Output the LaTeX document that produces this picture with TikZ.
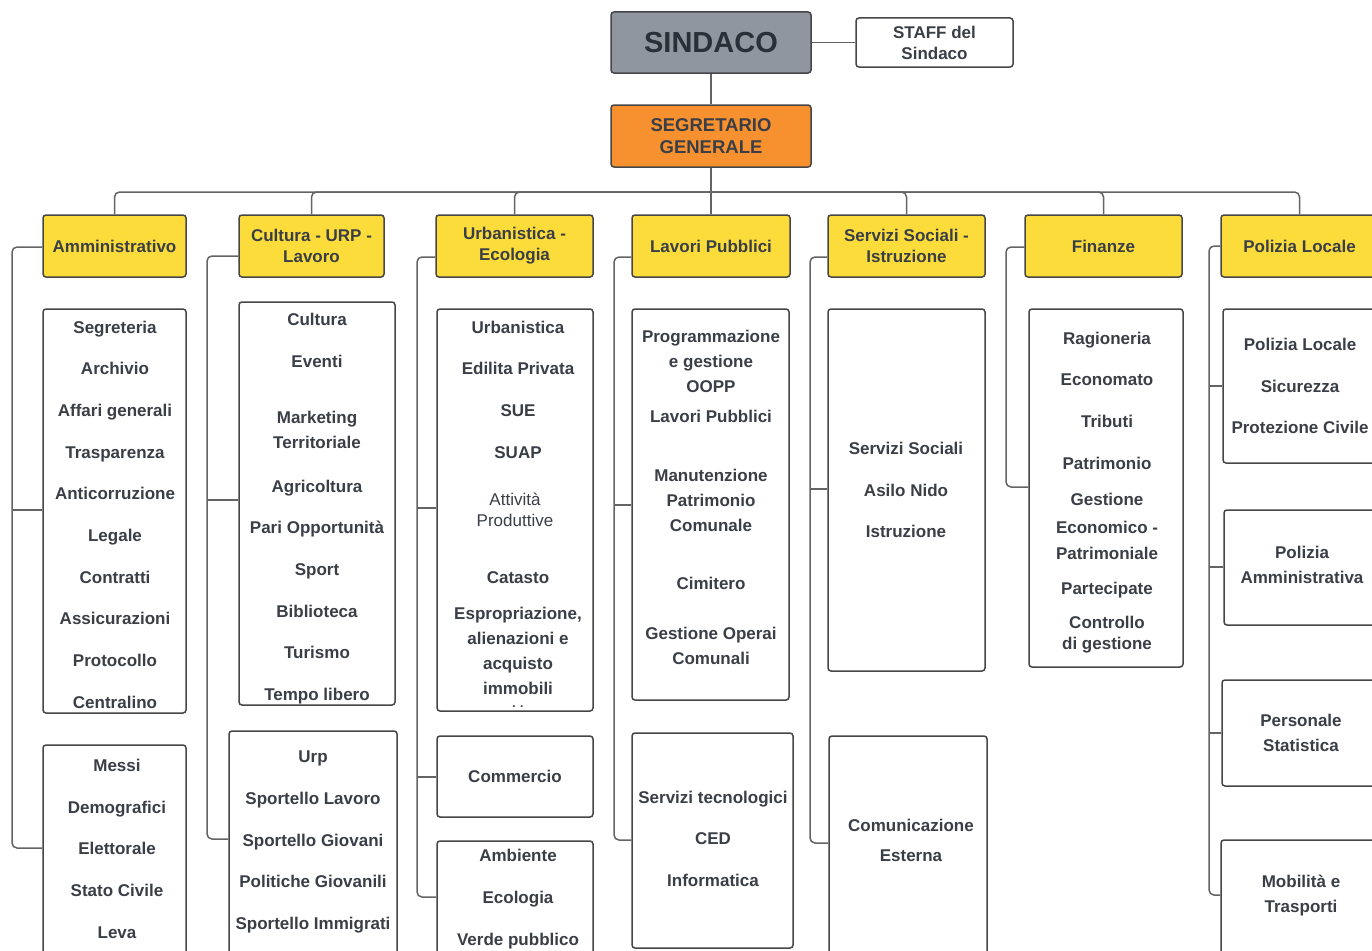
\documentclass[tikz,border=0pt]{standalone}
\usepackage{fontspec}
\setmainfont{Liberation Sans}
\usetikzlibrary{calc}
\definecolor{txt}{RGB}{58,62,70}
\definecolor{linec}{RGB}{70,70,72}
\definecolor{connc}{RGB}{100,100,102}
\definecolor{sindc}{RGB}{143,150,160}
\definecolor{orangec}{RGB}{247,145,48}
\definecolor{yellowc}{RGB}{251,220,59}
\newcommand\itemfont{\fontsize{17}{21}\selectfont\bfseries}
\newcommand\itemregfont{\fontsize{17}{21}\selectfont}
\tikzset{
  box/.style={draw=linec, line width=1.5pt, rounded corners=3pt, fill=white, inner sep=0pt},
  hdr/.style={box, fill=yellowc, align=center, font=\itemfont, text=txt},
  item/.style={font=\itemfont, text=txt, inner sep=0pt, text height=12pt, text depth=0pt},
  itemreg/.style={font=\itemregfont, text=txt, inner sep=0pt, text height=12pt, text depth=0pt},
  conn/.style={draw=connc, line width=1.5pt},
}
\begin{document}
\begin{tikzpicture}[x=1pt,y=-1pt]
\useasboundingbox (0,0) rectangle (1372,950);
\clip (0,0) rectangle (1372,950);
\fill[white] (0,0) rectangle (1372,950);

% top
\node[box, fill=sindc, minimum width=200, minimum height=61, font=\fontsize{29}{32}\selectfont\bfseries, text={rgb,255:red,42;green,47;blue,56}] (sind) at (711,42.5) {SINDACO};
\node[box, minimum width=157, minimum height=49, align=center, font=\fontsize{17}{21}\selectfont\bfseries, text=txt] (staff) at (934.5,42.5) {STAFF del\\Sindaco};
\node[box, fill=orangec, minimum width=200, minimum height=62, align=center, font=\fontsize{18.5}{22}\selectfont\bfseries, text=txt] (seg) at (711,136) {SEGRETARIO\\GENERALE};
\coordinate (bus) at (711,192);

% headers
\node[hdr, minimum width=143, minimum height=62] (h1) at (114.5,246) {Amministrativo};
\node[hdr, minimum width=145, minimum height=62] (h2) at (311.5,246) {Cultura - URP -\\Lavoro};
\node[hdr, minimum width=157, minimum height=62] (h3) at (514.5,246) {Urbanistica -\\Ecologia};
\node[hdr, minimum width=158, minimum height=62] (h4) at (711,246) {Lavori Pubblici};
\node[hdr, minimum width=157, minimum height=62] (h5) at (906.5,246) {Servizi Sociali -\\Istruzione};
\node[hdr, minimum width=157, minimum height=62] (h6) at (1103.5,246) {Finanze};
\node[hdr, minimum width=157, minimum height=62] (h7) at (1299.5,246) {Polizia Locale};

% sub boxes
\node[box, minimum width=143, minimum height=404] (a1) at (114.5,511) {};
\node[box, minimum width=143, minimum height=215] (a2) at (114.5,852.5) {};
\node[box, minimum width=156, minimum height=403] (c1) at (317,503.5) {};
\node[box, minimum width=168, minimum height=229] (c2) at (313,845.5) {};
\node[box, minimum width=156, minimum height=402] (u1) at (515,510) {};
\node[box, minimum width=156, minimum height=81] (u2) at (515,776.5) {};
\node[box, minimum width=156, minimum height=119] (u3) at (515,900.5) {};
\node[box, minimum width=157, minimum height=391] (l1) at (710.5,504.5) {};
\node[box, minimum width=161, minimum height=215] (l2) at (712.5,840.5) {};
\node[box, minimum width=157, minimum height=362] (s1) at (906.5,490) {};
\node[box, minimum width=158, minimum height=224] (s2) at (908,848) {};
\node[box, minimum width=154, minimum height=358] (f1) at (1106,488) {};
\node[box, minimum width=157, minimum height=154] (p1) at (1301.5,386) {};
\node[box, minimum width=157, minimum height=115] (p2) at (1302.5,567.5) {};
\node[box, minimum width=157, minimum height=106] (p3) at (1300.5,733) {};
\node[box, minimum width=157, minimum height=120] (p4) at (1299.5,900) {};

% connectors
\draw[conn] (sind.east) -- (staff.west);
\draw[conn] (sind.south) -- (seg.north);
\draw[conn] (seg.south) -- (bus);
\foreach \h in {h1,h2,h3,h4,h5,h6,h7}
  \draw[conn, rounded corners=5pt] (bus) -| (\h.north);

\draw[conn, rounded corners=5pt] (h1.west |- 0,247) -| (12,848) -- (a2.west |- 0,848);
\draw[conn] (12,510) -- (a1.west |- 0,510);
\draw[conn, rounded corners=5pt] (h2.west |- 0,256) -| (207,839) -- (c2.west |- 0,839);
\draw[conn] (207,500) -- (c1.west |- 0,500);
\draw[conn, rounded corners=5pt] (h3.west |- 0,257) -| (417,897) -- (u3.west |- 0,897);
\draw[conn] (417,508) -- (u1.west |- 0,508);
\draw[conn] (417,777) -- (u2.west |- 0,777);
\draw[conn, rounded corners=5pt] (h4.west |- 0,257) -| (614,840) -- (l2.west |- 0,840);
\draw[conn] (614,505) -- (l1.west |- 0,505);
\draw[conn, rounded corners=5pt] (h5.west |- 0,257) -| (810,843) -- (s2.west |- 0,843);
\draw[conn] (810,489) -- (s1.west |- 0,489);
\draw[conn, rounded corners=5pt] (h6.west |- 0,247) -| (1006,487) -- (f1.west |- 0,487);
\draw[conn, rounded corners=5pt] (h7.west |- 0,246) -| (1209,895) -- (p4.west |- 0,895);
\draw[conn] (1209,386) -- (p1.west |- 0,386);
\draw[conn] (1209,567) -- (p2.west |- 0,567);
\draw[conn] (1209,733) -- (p3.west |- 0,733);

% texts
\foreach \y/\t [count=\i] in {327/Segreteria, 368/Archivio, 410/Affari generali, 452/Trasparenza, 493/Anticorruzione, 535/Legale, 577/Contratti, 618/Assicurazioni, 660/Protocollo, 702/Centralino}
  \node[item] (a1t\i) at (115,\y) {\t};
\foreach \y/\t [count=\i] in {765/Messi, 807/Demografici, 848/Elettorale, 890/Stato Civile, 932/Leva}
  \node[item] (a2t\i) at (117,\y) {\t};
\foreach \y/\t [count=\i] in {319/Cultura, 361/Eventi, 417/Marketing, 442/Territoriale, 486/Agricoltura, 527/Pari Opportunità, 569/Sport, 611/Biblioteca, 652/Turismo, 694/Tempo libero}
  \node[item] (c1t\i) at (317,\y) {\t};
\foreach \y/\t [count=\i] in {756/Urp, 798/Sportello Lavoro, 840/Sportello Giovani, 881/Politiche Giovanili, 923/Sportello Immigrati}
  \node[item] (c2t\i) at (313,\y) {\t};
\foreach \y/\t [count=\i] in {327/Urbanistica, 368/Edilita Privata, 410/SUE, 452/SUAP, 577/Catasto, 613/{Espropriazione,}, 638/alienazioni e, 663/acquisto, 688/immobili}
  \node[item] (u1t\i) at (518,\y) {\t};
\node[itemreg] (u1r1) at (515,499) {Attività};
\node[itemreg] (u1r2) at (515,520) {Produttive};
\node[item, font=\fontsize{12}{12}\selectfont\bfseries, text height=4pt] (u1d) at (518,705) {. .};
\node[item] (u2t1) at (515,776) {Commercio};
\foreach \y/\t [count=\i] in {855/Ambiente, 897/Ecologia, 939/Verde pubblico}
  \node[item] (u3t\i) at (518,\y) {\t};
\foreach \y/\t [count=\i] in {336/Programmazione, 361/e gestione, 386/OOPP, 416/Lavori Pubblici, 475/Manutenzione, 500/Patrimonio, 525/Comunale, 583/Cimitero, 633/Gestione Operai, 658/Comunali}
  \node[item] (l1t\i) at (711,\y) {\t};
\foreach \y/\t [count=\i] in {797/Servizi tecnologici, 838/CED, 880/Informatica}
  \node[item] (l2t\i) at (713,\y) {\t};
\foreach \y/\t [count=\i] in {448/Servizi Sociali, 490/Asilo Nido, 531/Istruzione}
  \node[item] (s1t\i) at (906,\y) {\t};
\foreach \y/\t [count=\i] in {825/Comunicazione, 855/Esterna}
  \node[item] (s2t\i) at (911,\y) {\t};
\foreach \y/\t [count=\i] in {338/Ragioneria, 379/Economato, 421/Tributi, 463/Patrimonio, 499/Gestione, 527/Economico -, 553/Patrimoniale, 588/Partecipate, 622/Controllo, 643/di gestione}
  \node[item] (f1t\i) at (1107,\y) {\t};
\foreach \y/\t [count=\i] in {344/Polizia Locale, 386/Sicurezza, 427/Protezione Civile}
  \node[item] (p1t\i) at (1300,\y) {\t};
\foreach \y/\t [count=\i] in {552/Polizia, 577/Amministrativa}
  \node[item] (p2t\i) at (1302,\y) {\t};
\foreach \y/\t [count=\i] in {720/Personale, 745/Statistica}
  \node[item] (p3t\i) at (1301,\y) {\t};
\foreach \y/\t [count=\i] in {881/Mobilità e, 906/Trasporti}
  \node[item] (p4t\i) at (1301,\y) {\t};
\end{tikzpicture}
\end{document}
